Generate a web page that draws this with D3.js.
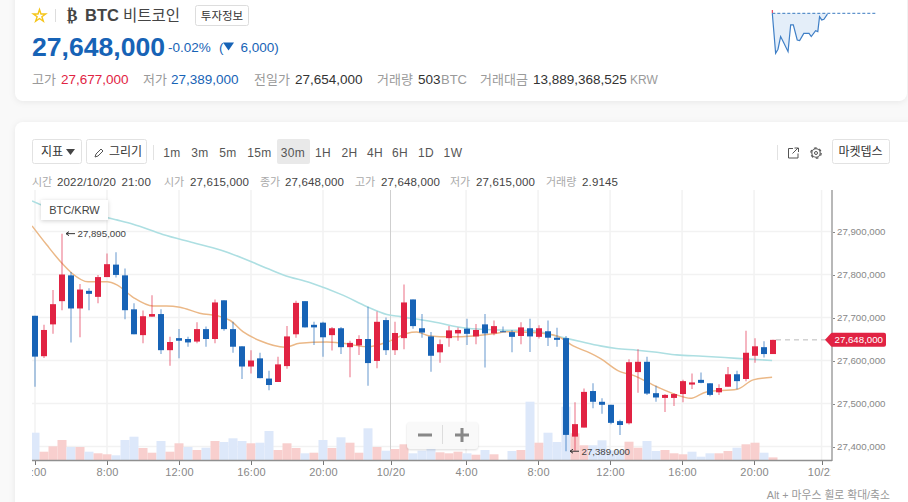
<!DOCTYPE html>
<html>
<head>
<meta charset="utf-8">
<title>BTC 비트코인</title>
<script src="https://cdn.jsdelivr.net/npm/d3@7"></script>
<style>
html, body { margin: 0; padding: 0; background: #f9f9f9; overflow: hidden; }
svg { display: block; }
text { font-family: "Liberation Sans", "Noto Sans CJK KR", sans-serif; }
.card { fill: #fff; filter: drop-shadow(0 1px 3px rgba(0,0,0,.07)); }
.axis path, .axis line { shape-rendering: crispEdges; }
</style>
</head>
<body>
<svg id="chart" width="908" height="502"></svg>
<script>
// all prices are in thousand KRW, one candle every 30 minutes
var opens = [27704,27610,27684,27738,27798,27721,27762,27748,27794,27823,27798,27719,27659,27702,27708,27624,27652,27650,27644,27673,27650,27740,27673,27633,27586,27605,27558,27550,27587,27661,27738,27683,27688,27659,27675,27631,27635,27650,27599,27694,27624,27652,27742,27675,27656,27619,27652,27663,27674,27656,27684,27663,27668,27666,27657,27675,27655,27668,27653,27652,27423,27444,27529,27504,27497,27459,27454,27573,27597,27524,27513,27513,27522,27544,27555,27547,27526,27539,27568,27557,27611,27631,27615];
var closes = [27609,27671,27731,27800,27721,27765,27755,27794,27824,27799,27717,27661,27703,27708,27624,27643,27646,27642,27673,27650,27735,27673,27632,27586,27600,27559,27543,27591,27656,27734,27677,27677,27654,27675,27631,27641,27650,27594,27690,27624,27664,27735,27680,27665,27611,27638,27670,27671,27662,27671,27663,27680,27666,27655,27677,27656,27675,27653,27648,27427,27452,27527,27504,27497,27455,27450,27596,27597,27523,27514,27520,27522,27552,27549,27548,27520,27536,27568,27552,27618,27633,27615,27648];
var highs = [27704,27683,27764,27895,27806,27778,27768,27799,27849,27852,27814,27733,27716,27752,27719,27655,27673,27655,27689,27679,27742,27740,27690,27633,27624,27618,27576,27609,27680,27739,27738,27690,27690,27678,27678,27646,27659,27725,27714,27700,27690,27777,27742,27708,27666,27649,27680,27677,27697,27685,27708,27693,27679,27671,27689,27697,27682,27693,27676,27657,27503,27535,27547,27512,27497,27462,27603,27626,27609,27541,27522,27524,27555,27570,27572,27547,27545,27585,27576,27669,27652,27645,27648];
var lows = [27539,27606,27662,27717,27642,27654,27717,27733,27794,27793,27696,27661,27640,27702,27615,27588,27605,27632,27640,27632,27640,27669,27618,27557,27570,27559,27531,27550,27581,27653,27677,27636,27609,27623,27615,27561,27613,27541,27582,27613,27613,27626,27674,27653,27574,27595,27632,27646,27636,27638,27584,27659,27666,27619,27638,27620,27651,27634,27632,27389,27390,27444,27489,27476,27452,27427,27451,27525,27520,27504,27480,27494,27503,27534,27547,27517,27520,27539,27533,27552,27595,27607,27615];

// volume in BTC and its colour side
var volumes = [27.6,8.6,14,20.3,13.3,13.3,8.6,7,6,5,20.3,23.6,12.3,7.6,19.3,8.6,17,13.3,10.3,12.6,19.3,18.3,22,19.3,17,17.6,29.3,10.3,17,12.3,7,7.6,20.3,12.3,23,17.6,7.6,32,13.3,9.6,11.3,16,7,9.6,13.3,8,7,8.6,7,5.6,10.3,6,0.3,9.3,10.3,58.6,17.6,27.6,18.3,53.6,27,15,15,20,10,10,18.6,12.6,19.3,9.3,10.3,7,6,8.6,3.6,7,7,9.3,12.6,16,17.6,7.6,2.9145];
var volumeSides = "d u u u d u d u u d d d u u d u u d u d u d d d u d d u u u d u d u d u u d u d u u d d d u u u d u d u d d u d u d d d u u d d d d u u d d u u u d d d u u d u u d u".split(" ");

// moving averages: candle position and value
var maShortIdx = [-0.33,1.3,3,4.1,5.9,8,9.1,10.9,13.1,14.6,16.1,18.3,20.6,21.7,23.1,25,27.8,29.4,32.4,34.2,36.9,39.4,41.3,42.4,43.9,46.1,48.7,50.9,52.4,55.3,58,59.8,61.7,62.8,65,66.4,69.1,71.3,72.8,74.6,78,79.8,81.9];
var maShort = [27913,27869,27826,27803,27783,27783,27776,27747,27727,27727,27724,27710,27702,27693,27667,27646,27631,27640,27643,27640,27632,27645,27663,27666,27657,27655,27657,27662,27667,27665,27657,27634,27617,27605,27574,27566,27539,27520,27512,27527,27533,27555,27561];
var maLongIdx = [-0.33,0.67,8.33,9.08,10.9,14.2,17.6,20.6,26.3,27.6,30.6,34.2,36.9,39.1,40.6,44.2,48,51.7,55.3,58.3,60.6,62.8,64.6,66.9,69.1,71.3,74.2,78,81.9];
var maLong = [27971,27962,27931,27927,27917,27893,27874,27857,27810,27799,27781,27752,27725,27707,27702,27690,27675,27671,27669,27655,27644,27634,27628,27624,27619,27613,27610,27605,27600];

// axes
var priceTicks = [27400,27500,27600,27700,27800,27900];
var timeTicks = [0,8,16,24,32,39.5,47.9,55.9,63.9,71.9,79.9,87.4];
var timeLabels = ["4:00","8:00","12:00","16:00","20:00","10/20","4:00","8:00","12:00","16:00","20:00","10/21"];

// mini chart in the header, hours since 00:00 and price
var sparkHours = [0,0.76,1.3,1.9,2.67,3.6,4.2,4.8,5.7,6.25,7.2,8.4,8.9,9.9,10.4,10.8,11.3,11.8,12.6];
var sparkPrices = [27654,27389,27416,27500,27456,27400,27577,27577,27477,27473,27521,27521,27500,27539,27533,27632,27610,27614,27648];

var RED = "#e12343", BLUE = "#1763b6", GREY = "#9a9a9a", DARK = "#333";
var comma = d3.format(",");
var won = function(k) { return comma(k * 1000); };

var svg = d3.select("#chart");

function label(parent, str, x, y, size, fill, anchor, weight) {
	return parent.append("text")
		.attr("x", x).attr("y", y)
		.attr("font-size", size)
		.attr("fill", fill)
		.attr("text-anchor", anchor || "start")
		.attr("font-weight", weight || "normal")
		.text(str);
}

function button(x, w, str) {
	svg.append("rect").attr("x", x + .5).attr("y", 139.5).attr("width", w).attr("height", 24).attr("rx", 2)
		.attr("fill", "#fff").attr("stroke", "#e2e2e2");
	if (str) label(svg, str, x + w / 2, 156, 12, DARK, "middle");
}

//	cards
svg.append("rect").attr("class", "card").attr("x", 15).attr("y", -20).attr("width", 892).attr("height", 121).attr("rx", 8);
svg.append("rect").attr("class", "card").attr("x", 15).attr("y", 122).attr("width", 900).attr("height", 400).attr("rx", 8);

//	header
var star = d3.symbol().type(d3.symbolStar).size(48);
svg.append("path").attr("d", star()).attr("transform", "translate(39.5,16)")
	.attr("fill", "#fff").attr("stroke", "#f5c518").attr("stroke-width", 1.4);
svg.append("line").attr("x1", 55.5).attr("x2", 55.5).attr("y1", 9).attr("y2", 22).attr("stroke", "#ddd");
label(svg, "₿", 72, 21, 16, "#444", "middle", "bold").style("font-family", "DejaVu Sans");
label(svg, "BTC", 85, 21, 16.5, "#444", "start", "bold");
label(svg, "비트코인", 123, 21, 15.5, "#444");
svg.append("rect").attr("x", 195.5).attr("y", 5.5).attr("width", 53).attr("height", 20).attr("rx", 2)
	.attr("fill", "#fff").attr("stroke", "#ddd");
label(svg, "투자정보", 222, 20, 11.5, DARK, "middle");

label(svg, "27,648,000", 32, 56, 26.6, BLUE, "start", "bold");
label(svg, "-0.02%", 168, 52, 13.5, BLUE);
label(svg, "(", 219, 52, 13.5, BLUE);
svg.append("path").attr("d", "M223,42.5h11l-5.5,8z").attr("fill", BLUE);
label(svg, "6,000)", 240.5, 52, 13.5, BLUE);

var summary = [
	["고가", 32, "27,677,000", 61, RED],
	["저가", 143, "27,389,000", 171, BLUE],
	["전일가", 254, "27,654,000", 295, DARK],
	["거래량", 377, "503", 418, DARK],
	["거래대금", 480, "13,889,368,525", 533, DARK]
];
summary.forEach(function(s) {
	label(svg, s[0], s[1], 84, 13, GREY);
	label(svg, s[2], s[3], 84, 13.5, s[4]);
});
label(svg, "BTC", 441, 84, 13, GREY);
label(svg, "KRW", 630, 84, 12, GREY);

//	mini chart
var sparkX = d3.scaleLinear().domain([0, 24]).range([772.3, 877.3]);
var sparkY = d3.scaleLinear().domain([27389, 27654]).range([53.3, 13.3]);
var sparkPts = sparkHours.map(function(h, i) { return [h, sparkPrices[i]]; });
svg.append("path")
	.attr("d", d3.area().x(function(d) { return sparkX(d[0]); }).y0(sparkY(27654)).y1(function(d) { return sparkY(d[1]); })(sparkPts))
	.attr("fill", "#e4eef9");
svg.append("line").attr("x1", sparkX(0)).attr("x2", sparkX(24)).attr("y1", sparkY(27654)).attr("y2", sparkY(27654))
	.attr("stroke", BLUE).attr("stroke-dasharray", "3,2").attr("opacity", .85);
svg.append("path")
	.attr("d", d3.line().x(function(d) { return sparkX(d[0]); }).y(function(d) { return sparkY(d[1]); })(sparkPts))
	.attr("fill", "none").attr("stroke", "#3f7fc6").attr("stroke-width", 1.2);
svg.append("line").attr("x1", sparkX(0)).attr("x2", sparkX(0)).attr("y1", 10).attr("y2", 13).attr("stroke", RED);

//	toolbar
button(32, 49);
label(svg, "지표", 41, 156, 12, DARK);
svg.append("path").attr("d", "M66,149h9l-4.5,6z").attr("fill", "#444");
button(86, 60);
label(svg, "그리기", 109, 156, 12, DARK);
svg.append("path").attr("d", "M95,157l1,-3l5,-5l2,2l-5,5z").attr("fill", "none").attr("stroke", "#555");
svg.append("line").attr("x1", 153.5).attr("x2", 153.5).attr("y1", 145).attr("y2", 160).attr("stroke", "#e2e2e2");
svg.append("rect").attr("x", 277).attr("y", 139).attr("width", 33).attr("height", 25).attr("rx", 2).attr("fill", "#e9e9e9");

var intervals = ["1m","3m","5m","15m","30m","1H","2H","4H","6H","1D","1W"];
var intervalX = [172,200,228,259.5,293,323,349.5,375,400,426,453];
intervals.forEach(function(s, i) {
	label(svg, s, intervalX[i], 157, 12, "#555", "middle").attr("letter-spacing", ".4");
});

svg.append("line").attr("x1", 777.5).attr("x2", 777.5).attr("y1", 145).attr("y2", 160).attr("stroke", "#e2e2e2");
svg.append("path").attr("d", "M793,148.5h-4.5v9.5h9.500v-4.500M792.500,153.500l5.500,-5.500M794.500,148h4v4").attr("fill", "none").attr("stroke", "#555");
// gear: a ring with dashed teeth round it
svg.append("circle").attr("cx", 816).attr("cy", 153).attr("r", 4.2).attr("fill", "none").attr("stroke", "#555").attr("stroke-width", 1.1);
svg.append("circle").attr("cx", 816).attr("cy", 153).attr("r", 5.2).attr("fill", "none").attr("stroke", "#555").attr("stroke-width", 1.2).attr("stroke-dasharray", "2.7,2.75");
svg.append("circle").attr("cx", 816).attr("cy", 153).attr("r", 1.5).attr("fill", "none").attr("stroke", "#555");
button(832, 57, "마켓뎁스");

//	OHLC readout
var readout = [
	["시간", 32, "2022/10/20 21:00", 57],
	["시가", 164, "27,615,000", 190],
	["종가", 260, "27,648,000", 285],
	["고가", 355, "27,648,000", 381],
	["저가", 450, "27,615,000", 476],
	["거래량", 546, "2.9145", 582]
];
readout.forEach(function(r) {
	label(svg, r[0], r[1], 186, 11, "#aaa");
	label(svg, r[2], r[3], 186, 11.5, "#444").attr("letter-spacing", ".15").attr("word-spacing", "2");
});

//	scales
var x = d3.scaleLinear().domain([0, 82]).range([35, 773]);
var y = d3.scaleLinear().domain([27400, 27900]).range([446.5, 231.5]);
var yVol = d3.scaleLinear().domain([0, 100]).range([460.3, 360.3]);

svg.append("clipPath").attr("id", "plotClip").append("rect").attr("x", 32).attr("y", 190).attr("width", 800).attr("height", 271);
svg.append("clipPath").attr("id", "xClip").append("rect").attr("x", 32).attr("y", 455).attr("width", 799).attr("height", 30);

//	grid
var plot = svg.append("g").attr("clip-path", "url(#plotClip)");
plot.selectAll(".hgrid").data(priceTicks).enter().append("line")
	.attr("x1", 32).attr("x2", 832)
	.attr("y1", function(d) { return y(d); }).attr("y2", function(d) { return y(d); })
	.attr("stroke", "#f2f2f2").attr("stroke-width", 1.5);
plot.selectAll(".vgrid").data(timeTicks).enter().append("line")
	.attr("x1", function(d) { return x(d); }).attr("x2", function(d) { return x(d); })
	.attr("y1", 190).attr("y2", 461)
	.attr("stroke", function(d) { return d === 39.5 ? "#cfcfcf" : "#f2f2f2"; })
	.attr("stroke-width", function(d) { return d === 39.5 ? 1 : 1.5; });

//	volume bars
plot.selectAll(".vol").data(volumes).enter().append("rect")
	.attr("class", "vol")
	.attr("x", function(d, i) { return x(i) - 4.5; })
	.attr("width", 9)
	.attr("y", function(d) { return yVol(d); })
	.attr("height", function(d) { return yVol(0) - yVol(d); })
	.attr("fill", function(d, i) { return volumeSides[i] === "u" ? "#f8cfce" : "#dde8fa"; });

//	moving averages
var maLine = d3.line().curve(d3.curveMonotoneX)
	.x(function(d) { return x(d[0]); })
	.y(function(d) { return y(d[1]); });
plot.append("path")
	.attr("d", maLine(maLongIdx.map(function(d, i) { return [d, maLong[i]]; })))
	.attr("fill", "none").attr("stroke", "#addfe2").attr("stroke-width", 1.6);
plot.append("path")
	.attr("d", maLine(maShortIdx.map(function(d, i) { return [d, maShort[i]]; })))
	.attr("fill", "none").attr("stroke", "#ebb887").attr("stroke-width", 1.5);

//	candles
function candleColor(i) { return closes[i] > opens[i] ? RED : BLUE; }

plot.selectAll(".wick").data(highs).enter().append("line")
	.attr("class", "wick")
	.attr("x1", function(d, i) { return x(i); })
	.attr("x2", function(d, i) { return x(i); })
	.attr("y1", function(d) { return y(d); })
	.attr("y2", function(d, i) { return y(lows[i]); })
	.attr("stroke", function(d, i) { return candleColor(i); })
	.attr("stroke-width", 1.2)
	.attr("opacity", .55);

plot.selectAll(".body").data(opens).enter().append("rect")
	.attr("class", "body")
	.attr("x", function(d, i) { return x(i) - 3; })
	.attr("width", 6)
	.attr("y", function(d, i) { return y(Math.max(d, closes[i])); })
	.attr("height", function(d, i) { return Math.max(1, Math.abs(y(d) - y(closes[i]))); })
	.attr("fill", function(d, i) { return candleColor(i); });

//	high and low markers
function extreme(i, value) {
	var g = svg.append("g").attr("transform", "translate(" + (x(i) + 4) + "," + y(value) + ")");
	g.append("path").attr("d", "M0,0h9M0,0l3,-2M0,0l3,2").attr("fill", "none").attr("stroke", "#333");
	label(g, won(value), 11.5, 3.500, 9.7, "#444");
}
extreme(highs.indexOf(d3.max(highs)), d3.max(highs));
extreme(lows.indexOf(d3.min(lows)), d3.min(lows));

//	axes
var yAxis = d3.axisRight(y).tickValues(priceTicks).tickSize(3).tickPadding(2).tickFormat(won);
var gy = svg.append("g").attr("class", "axis").attr("transform", "translate(832,0)").call(yAxis);
gy.select(".domain").remove();
gy.selectAll("line").attr("stroke", "#888");
gy.selectAll("text").attr("font-size", 9.7).attr("fill", "#888").style("font-family", "Liberation Sans");
svg.append("line").attr("x1", 832).attr("x2", 832).attr("y1", 190).attr("y2", 461).attr("stroke", "#b8b8b8").attr("stroke-width", 2);

var xAxis = d3.axisBottom(x).tickValues(timeTicks).tickSize(4).tickPadding(4)
	.tickFormat(function(d, i) { return timeLabels[i]; });
var gx = svg.append("g").attr("class", "axis").attr("clip-path", "url(#xClip)");
gx.append("g").attr("transform", "translate(0,460.5)").call(xAxis);
gx.select(".domain").remove();
gx.selectAll("line").attr("stroke", "#777");
gx.selectAll("text").attr("font-size", 11).attr("fill", "#888").attr("letter-spacing", ".2").style("font-family", "Liberation Sans");
svg.append("line").attr("x1", 32).attr("x2", 832).attr("y1", 460.5).attr("y2", 460.5).attr("stroke", "#909090").attr("stroke-width", 1.4);

//	current price
var lastPrice = closes[closes.length - 1];
svg.append("line").attr("x1", x(82) + 3).attr("x2", 826).attr("y1", y(lastPrice)).attr("y2", y(lastPrice))
	.attr("stroke", "#bbb").attr("stroke-dasharray", "5,4");
var tagY = y(lastPrice);
svg.append("path").attr("d", "M825," + tagY + "l6,-6.500q.5,-.5 1,-.5h52q2,0 2,2v10q0,2 -2,2h-52q-.5,0 -1,-.5z").attr("fill", RED);
label(svg, won(lastPrice), 834.5, tagY + 3.5, 9.7, "#fff");

//	pair label
svg.append("rect").attr("x", 41).attr("y", 200).attr("width", 67).attr("height", 20).attr("fill", "#fff")
	.style("filter", "drop-shadow(0 1px 2px rgba(0,0,0,.18))");
label(svg, "BTC/KRW", 74.5, 214, 11, "#444", "middle");

//	zoom buttons
svg.append("rect").attr("x", 407).attr("y", 422).attr("width", 71).attr("height", 27).attr("rx", 3)
	.attr("fill", "#f9f9f9").attr("opacity", .96).style("filter", "drop-shadow(0 1px 1px rgba(0,0,0,.15))");
svg.append("line").attr("x1", 442.5).attr("x2", 442.500).attr("y1", 425).attr("y2", 444).attr("stroke", "#ddd");
svg.append("path").attr("d", "M418,435h14M455,435h14M462,428v14").attr("stroke", "#888").attr("stroke-width", 3).attr("fill", "none");

//	footer hint
label(svg, "Alt + 마우스 휠로 확대/축소", 890, 499, 10.8, "#999", "end");
</script>
</body>
</html>
